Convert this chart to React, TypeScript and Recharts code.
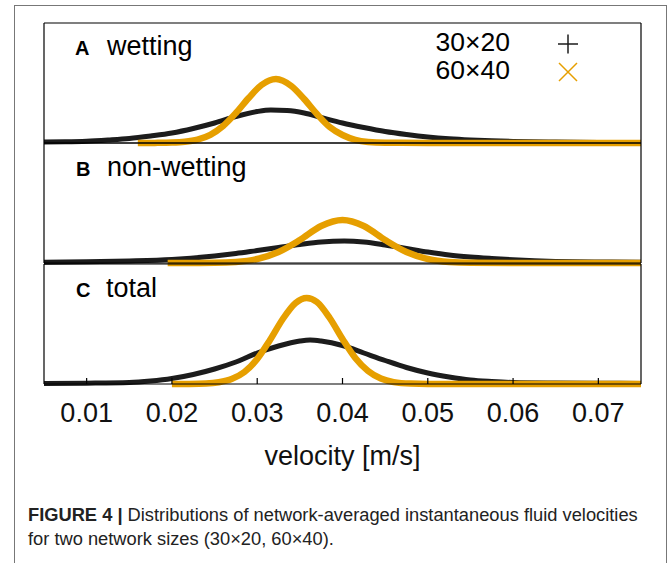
import React from "react";
import { LineChart, Line, XAxis, YAxis, Legend, Label } from "recharts";

const VEL_TICKS = [0.01, 0.02, 0.03, 0.04, 0.05, 0.06, 0.07];
const SIZES = ["30×20", "60×40"];

// A  wetting
const wetBlackV = [0.005, 0.0075, 0.01, 0.0125, 0.015, 0.0175, 0.02, 0.0225, 0.025, 0.0275, 0.03, 0.0316, 0.0335, 0.0355, 0.0375, 0.04, 0.0425, 0.045, 0.0475, 0.05, 0.0525, 0.055, 0.0575, 0.06, 0.065, 0.07, 0.075];
const wetBlackD = [1, 1.2, 1.8, 3, 4.5, 7, 10, 14.5, 20, 26.5, 31.5, 33, 32.5, 30, 25.5, 20, 15.5, 11.5, 8.5, 6, 4.2, 3, 2.2, 1.6, 1, 0.6, 0.4];
const wetOrangeV = [0.016, 0.018, 0.02, 0.0215, 0.023, 0.0245, 0.026, 0.0275, 0.029, 0.0305, 0.0322, 0.034, 0.0355, 0.037, 0.0385, 0.04, 0.0415, 0.043, 0.045, 0.05, 0.06, 0.075];
const wetOrangeD = [0, 0.1, 0.4, 1.2, 3.4, 8.2, 17, 30, 45, 58, 64, 57, 44, 29, 16, 8, 3.2, 1.1, 0.3, 0.1, 0.1, 0.1];

// B  non-wetting
const nonBlackV = [0.005, 0.01, 0.015, 0.02, 0.025, 0.0275, 0.03, 0.0325, 0.035, 0.0375, 0.0402, 0.0425, 0.045, 0.0475, 0.05, 0.0525, 0.055, 0.0575, 0.06, 0.0625, 0.065, 0.07, 0.075];
const nonBlackD = [0.8, 1.2, 2, 3.5, 7, 9.5, 12.5, 15.5, 18.5, 21, 22, 21, 18, 14.5, 11, 8, 6, 4.5, 3.2, 2.2, 1.6, 1, 0.7];
const nonOrangeV = [0.0195, 0.0225, 0.025, 0.0275, 0.03, 0.0325, 0.035, 0.0375, 0.04, 0.0425, 0.045, 0.0475, 0.05, 0.0525, 0.055, 0.06, 0.075];
const nonOrangeD = [0, 0.1, 0.2, 1, 4, 11, 23, 37, 43, 37, 23, 11, 4, 1, 0.2, 0.1, 0.1];

// C  total
const totBlackV = [0.005, 0.01, 0.015, 0.0175, 0.02, 0.0225, 0.025, 0.0275, 0.03, 0.0325, 0.035, 0.0362, 0.0375, 0.04, 0.0425, 0.045, 0.0475, 0.05, 0.0525, 0.055, 0.0575, 0.06, 0.065, 0.07, 0.075];
const totBlackD = [0.5, 0.8, 1.5, 3, 5.5, 9.5, 15, 22, 31, 38, 43, 44, 43, 38.5, 31, 23.5, 16.5, 11, 7, 4, 2.5, 1.5, 1, 0.8, 0.6];
const totOrangeV = [0.02, 0.022, 0.024, 0.0255, 0.027, 0.0285, 0.03, 0.0315, 0.033, 0.0345, 0.0358, 0.037, 0.0385, 0.04, 0.0415, 0.043, 0.0445, 0.046, 0.048, 0.05, 0.06, 0.075];
const totOrangeD = [0, 0.1, 0.5, 1.8, 5, 12, 25, 44, 65, 81, 86, 82, 66, 45, 26, 13, 5.4, 1.9, 0.4, 0.1, 0.1, 0.1];

const FONT = "'Liberation Sans', Arial, Helvetica, sans-serif";
const BLACK = "#1c1c1c";
const ORANGE = "#e69f00";
const FRAME = { stroke: "#000", strokeWidth: 1.2 };

const pts = (v: number[], d: number[]) => v.map((x, i) => ({ v: x, d: d[i] }));

function SizeLegend({ payload }: any) {
  const items = payload ?? [];
  return (
    <svg width={200} height={64} style={{ fontFamily: FONT, display: "block" }}>
      {items.map((it: any, i: number) => {
        const cy = 19 + i * 28;
        return (
          <g key={i}>
            <text x={110} y={cy + 6.5} textAnchor="end" fontSize={26.5} fill="#000">{it.value}</text>
            {i === 0 ? (
              <path d={`M158,${cy} h20 M168,${cy - 9.5} v19`} stroke={it.color} strokeWidth={1.5} />
            ) : (
              <path d={`M159,${cy - 9} l18,18 M177,${cy - 9} l-18,18`} stroke={it.color} strokeWidth={1.5} />
            )}
          </g>
        );
      })}
    </svg>
  );
}

type PanelProps = {
  top: number;
  extra: number;
  black: { v: number; d: number }[];
  orange: { v: number; d: number }[];
  labels?: boolean;
  legend?: boolean;
};

// each panel: 120px plot, 5px axis band above and below
function Panel({ top, extra, black, orange, labels, legend }: PanelProps) {
  return (
    <div style={{ position: "absolute", left: 0, top: top - 5 }}>
      <LineChart width={672} height={130 + extra} margin={{ top: 0, right: 29, bottom: extra, left: 42 }}>
        <XAxis
          xAxisId="b"
          dataKey="v"
          type="number"
          domain={[0.005, 0.075]}
          ticks={VEL_TICKS}
          height={5}
          tickSize={-6}
          tickMargin={25}
          axisLine={FRAME}
          tickLine={{ stroke: "#000", strokeWidth: 1.2 }}
          tick={labels ? { fontSize: 27, fill: "#111", fontFamily: FONT } : false}
        >
          {labels && <Label value="velocity [m/s]" position="bottom" offset={57} style={{ fontSize: 27, fill: "#111", fontFamily: FONT }} />}
        </XAxis>
        <XAxis
          xAxisId="t"
          orientation="top"
          dataKey="v"
          type="number"
          domain={[0.005, 0.075]}
          ticks={VEL_TICKS}
          height={5}
          tickSize={-6}
          axisLine={FRAME}
          tickLine={{ stroke: "#000", strokeWidth: 1.2 }}
          tick={false}
        />
        <YAxis yAxisId="l" domain={[0, 120]} width={2} tick={false} tickLine={false} axisLine={FRAME} />
        <YAxis yAxisId="r" orientation="right" domain={[0, 120]} width={2} tick={false} tickLine={false} axisLine={FRAME} />
        <Line xAxisId="b" yAxisId="l" data={black} dataKey="d" name={SIZES[0]} type="monotone" stroke={BLACK} strokeWidth={5} dot={false} isAnimationActive={false} />
        <Line xAxisId="b" yAxisId="l" data={orange} dataKey="d" name={SIZES[1]} type="monotone" stroke={ORANGE} strokeWidth={6.5} dot={false} isAnimationActive={false} />
        {legend && (
          <Legend layout="vertical" align="center" verticalAlign="middle" wrapperStyle={{ left: 400, top: 7, width: 200 }} content={<SizeLegend />} />
        )}
      </LineChart>
    </div>
  );
}

export default function App() {
  return (
    <div style={{ position: "relative", width: 672, height: 563, overflow: "hidden", background: "#fff", fontFamily: FONT }}>
      <style>{"body{margin:0}"}</style>
      <div style={{ position: "absolute", left: 14, top: 5, width: 651, height: 620, border: "1px solid #777" }} />
      <Panel top={23} extra={0} black={pts(wetBlackV, wetBlackD)} orange={pts(wetOrangeV, wetOrangeD)} legend />
      <Panel top={143} extra={0} black={pts(nonBlackV, nonBlackD)} orange={pts(nonOrangeV, nonOrangeD)} />
      <Panel top={264} extra={95} black={pts(totBlackV, totBlackD)} orange={pts(totOrangeV, totOrangeD)} labels />
      <svg width={672} height={563} style={{ position: "absolute", left: 0, top: 0, pointerEvents: "none", fontFamily: FONT }}>
        <text x={75} y={55} fontSize={20} fontWeight="bold" fill="#000">A</text>
        <text x={107} y={55} fontSize={27} fill="#000">wetting</text>
        <text x={76} y={176} fontSize={20} fontWeight="bold" fill="#000">B</text>
        <text x={107} y={176} fontSize={27} fill="#000">non-wetting</text>
        <text x={76} y={297} fontSize={20} fontWeight="bold" fill="#000">C</text>
        <text x={106} y={297} fontSize={27} fill="#000">total</text>
      </svg>
      <div style={{ position: "absolute", left: 28, top: 503, fontSize: 18.3, lineHeight: "24px", color: "#222", whiteSpace: "nowrap" }}>
        <b>FIGURE 4 |</b> Distributions of network-averaged instantaneous fluid velocities
        <br />
        for two network sizes (30×20, 60×40).
      </div>
    </div>
  );
}
